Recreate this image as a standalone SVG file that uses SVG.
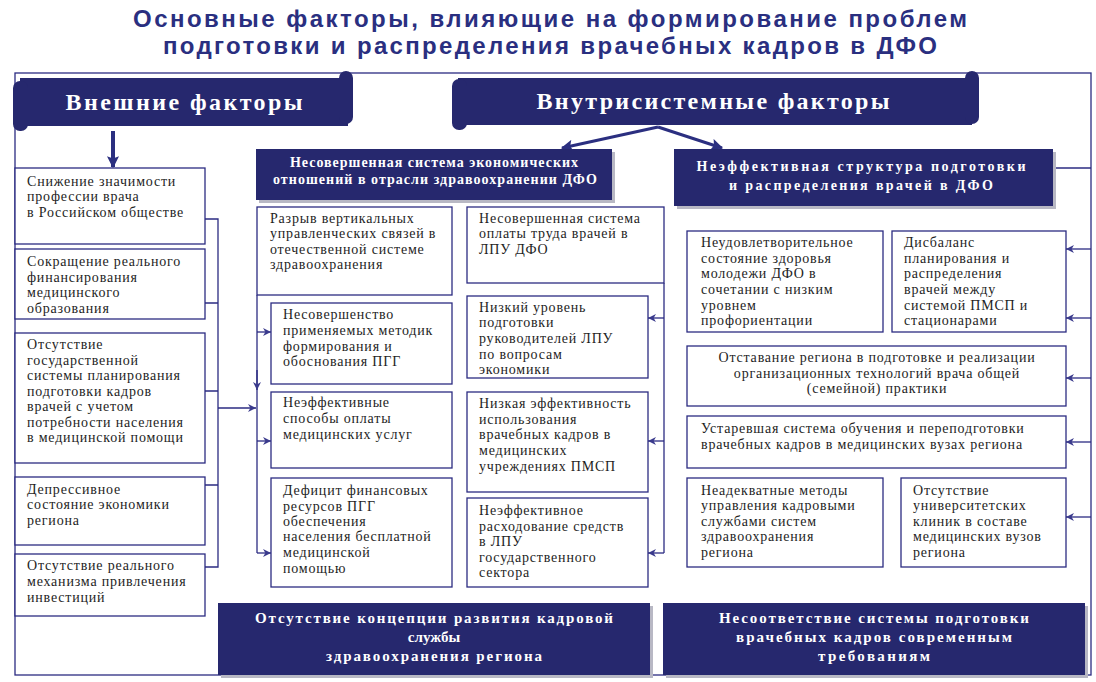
<svg xmlns="http://www.w3.org/2000/svg" width="1096" height="682" viewBox="0 0 1096 682">
<defs>
<style>
.frame{fill:none;stroke:#2b2b82;stroke-width:1.3}
.box{fill:#fff;stroke:#2b2b82;stroke-width:1.3}
.navy{fill:#26286e}
.shadow{fill:#b8b8c4}
.ln{fill:none;stroke:#2b2b82;stroke-width:1.3}
.t{font-family:"Liberation Serif","Times New Roman",serif;font-size:14px;fill:#1e1e1e;letter-spacing:0.8px}
.tc{font-family:"Liberation Serif","Times New Roman",serif;font-size:14px;fill:#1e1e1e;letter-spacing:0.8px;text-anchor:middle}
.hw{font-family:"Liberation Serif","Times New Roman",serif;font-weight:bold;fill:#fff;text-anchor:middle}
.title{font-family:"Liberation Sans",Arial,sans-serif;font-weight:bold;font-size:24px;fill:#2a2f80;text-anchor:middle}
</style>
<marker id="ah" viewBox="0 0 10 10" refX="10" refY="5" markerWidth="9" markerHeight="8" markerUnits="userSpaceOnUse" orient="auto">
<path d="M0,0 L10,5 L0,10 L3,5 Z" fill="#3a3a8c"/>
</marker>
<marker id="ahb" viewBox="0 0 10 10" refX="9" refY="5" markerWidth="14" markerHeight="12" markerUnits="userSpaceOnUse" orient="auto">
<path d="M0,0 L10,5 L0,10 L2,5 Z" fill="#2b2f80"/>
</marker>
</defs>
<rect width="1096" height="682" fill="#fff"/>

<g id="title">
<text class="title" x="550" y="27" textLength="834" lengthAdjust="spacing">Основные факторы, влияющие на формирование проблем</text>
<text class="title" x="550" y="54" textLength="774" lengthAdjust="spacing">подготовки и распределения врачебных кадров в ДФО</text>
</g>

<rect class="frame" x="15" y="73" width="1076" height="602"/>

<g id="connectors">
<line x1="113" y1="131" x2="113" y2="167" stroke="#2b2f80" stroke-width="4" marker-end="url(#ahb)"/>
<line x1="658" y1="127" x2="562" y2="148" stroke="#2b2f80" stroke-width="3" marker-end="url(#ahb)"/>
<line x1="658" y1="127" x2="722" y2="148" stroke="#2b2f80" stroke-width="3" marker-end="url(#ahb)"/>
<path class="ln" d="M205,219 H218 V567 H205 M205,303 H218 M205,391 H218 M205,485 H218"/>
<line class="ln" x1="218" y1="408" x2="256" y2="408" marker-end="url(#ah)"/>
<path class="ln" d="M257,295 V553"/>
<line class="ln" x1="257" y1="370" x2="257" y2="390" marker-end="url(#ah)"/>
<line class="ln" x1="257" y1="332" x2="271" y2="332" marker-end="url(#ah)"/>
<line class="ln" x1="257" y1="441" x2="271" y2="441" marker-end="url(#ah)"/>
<line class="ln" x1="257" y1="553" x2="271" y2="553" marker-end="url(#ah)"/>
<path class="ln" d="M664,283 V553"/>
<line class="ln" x1="664" y1="318" x2="648" y2="318" marker-end="url(#ah)"/>
<line class="ln" x1="664" y1="441" x2="648" y2="441" marker-end="url(#ah)"/>
<line class="ln" x1="664" y1="553" x2="648" y2="553" marker-end="url(#ah)"/>
<line class="ln" x1="1053" y1="168" x2="1091" y2="168"/>
<line class="ln" x1="1091" y1="249" x2="1066" y2="249" marker-end="url(#ah)"/>
<line class="ln" x1="1091" y1="318" x2="1066" y2="318" marker-end="url(#ah)"/>
<line class="ln" x1="1091" y1="378" x2="1066" y2="378" marker-end="url(#ah)"/>
<line class="ln" x1="1091" y1="442" x2="1066" y2="442" marker-end="url(#ah)"/>
<line class="ln" x1="1091" y1="517" x2="1066" y2="517" marker-end="url(#ah)"/>
</g>

<g id="banner-external">
<rect class="navy" x="20" y="78" width="328" height="48"/>
<rect class="navy" x="13" y="81" width="15" height="50" rx="7"/>
<rect class="navy" x="339" y="71" width="14" height="53" rx="7"/>
<text class="hw" x="184" y="110" font-size="24" textLength="237" lengthAdjust="spacing">Внешние факторы</text>
</g>

<g id="banner-internal">
<rect class="navy" x="458" y="78" width="514" height="47"/>
<rect class="navy" x="452" y="79" width="15" height="51" rx="7"/>
<rect class="navy" x="965" y="71" width="14" height="53" rx="7"/>
<text class="hw" x="713" y="109" font-size="24" textLength="353" lengthAdjust="spacing">Внутрисистемные факторы</text>
</g>

<g id="hdr-economic">
<rect class="shadow" x="259" y="152" width="356" height="51"/>
<rect class="navy" x="256" y="149" width="356" height="51"/>
<text class="hw" x="434" y="167" font-size="14" textLength="288" lengthAdjust="spacing">Несовершенная система экономических</text>
<text class="hw" x="435" y="184" font-size="14" textLength="324" lengthAdjust="spacing">отношений в отрасли здравоохранении ДФО</text>
</g>

<g id="hdr-structure">
<rect class="shadow" x="677" y="152" width="379" height="57"/>
<rect class="navy" x="674" y="149" width="379" height="57"/>
<text class="hw" x="861" y="171" font-size="14" textLength="329" lengthAdjust="spacing">Неэффективная  структура  подготовки</text>
<text class="hw" x="861" y="190" font-size="14" textLength="264" lengthAdjust="spacing">и распределения  врачей  в ДФО</text>
</g>

<g id="ext1">
<rect class="box" x="15" y="168" width="190" height="76"/>
<text class="t" x="27" y="186">Снижение значимости</text>
<text class="t" x="27" y="201">профессии врача</text>
<text class="t" x="27" y="217">в Российском обществе</text>
</g>
<g id="ext2">
<rect class="box" x="15" y="249" width="190" height="70"/>
<text class="t" x="27" y="266">Сокращение реального</text>
<text class="t" x="27" y="282">финансирования</text>
<text class="t" x="27" y="297">медицинского</text>
<text class="t" x="27" y="313">образования</text>
</g>
<g id="ext3">
<rect class="box" x="15" y="333" width="190" height="130"/>
<text class="t" x="27" y="349">Отсутствие</text>
<text class="t" x="27" y="365">государственной</text>
<text class="t" x="27" y="380">системы планирования</text>
<text class="t" x="27" y="396">подготовки кадров</text>
<text class="t" x="27" y="411">врачей с учетом</text>
<text class="t" x="27" y="427">потребности населения</text>
<text class="t" x="27" y="442">в медицинской помощи</text>
</g>
<g id="ext4">
<rect class="box" x="15" y="477" width="190" height="68"/>
<text class="t" x="27" y="494">Депрессивное</text>
<text class="t" x="27" y="509">состояние  экономики</text>
<text class="t" x="27" y="525">региона</text>
</g>
<g id="ext5">
<rect class="box" x="15" y="554" width="190" height="62"/>
<text class="t" x="27" y="570">Отсутствие реального</text>
<text class="t" x="27" y="586">механизма привлечения</text>
<text class="t" x="27" y="602">инвестиций</text>
</g>

<g id="m1">
<rect class="box" x="257" y="207" width="195" height="88"/>
<text class="t" x="270" y="223">Разрыв вертикальных</text>
<text class="t" x="270" y="238">управленческих связей в</text>
<text class="t" x="270" y="254">отечественной системе</text>
<text class="t" x="270" y="269">здравоохранения</text>
</g>
<g id="m2">
<rect class="box" x="271" y="303" width="181" height="81"/>
<text class="t" x="283" y="319">Несовершенство</text>
<text class="t" x="283" y="335">применяемых методик</text>
<text class="t" x="283" y="351">формирования и</text>
<text class="t" x="283" y="366">обоснования  ПГГ</text>
</g>
<g id="m3">
<rect class="box" x="271" y="392" width="181" height="76"/>
<text class="t" x="283" y="407">Неэффективные</text>
<text class="t" x="283" y="423">способы оплаты</text>
<text class="t" x="283" y="439">медицинских  услуг</text>
</g>
<g id="m4">
<rect class="box" x="271" y="478" width="181" height="109"/>
<text class="t" x="283" y="495">Дефицит финансовых</text>
<text class="t" x="283" y="511">ресурсов ПГГ</text>
<text class="t" x="283" y="526">обеспечения</text>
<text class="t" x="283" y="541">населения бесплатной</text>
<text class="t" x="283" y="557">медицинской</text>
<text class="t" x="283" y="573">помощью</text>
</g>

<g id="r1">
<rect class="box" x="467" y="207" width="197" height="76"/>
<text class="t" x="479" y="223">Несовершенная система</text>
<text class="t" x="479" y="238">оплаты труда врачей в</text>
<text class="t" x="479" y="254">ЛПУ  ДФО</text>
</g>
<g id="r2">
<rect class="box" x="467" y="296" width="181" height="82"/>
<text class="t" x="479" y="312">Низкий уровень</text>
<text class="t" x="479" y="327">подготовки</text>
<text class="t" x="479" y="343">руководителей ЛПУ</text>
<text class="t" x="479" y="359">по вопросам</text>
<text class="t" x="479" y="374">экономики</text>
</g>
<g id="r3">
<rect class="box" x="467" y="392" width="181" height="100"/>
<text class="t" x="479" y="408">Низкая эффективность</text>
<text class="t" x="479" y="424">использования</text>
<text class="t" x="479" y="439">врачебных кадров в</text>
<text class="t" x="479" y="455">медицинских</text>
<text class="t" x="479" y="471">учреждениях ПМСП</text>
</g>
<g id="r4">
<rect class="box" x="467" y="498" width="181" height="89"/>
<text class="t" x="479" y="515">Неэффективное</text>
<text class="t" x="479" y="531">расходование средств</text>
<text class="t" x="479" y="546">в ЛПУ</text>
<text class="t" x="479" y="562">государственного</text>
<text class="t" x="479" y="577">сектора</text>
</g>

<g id="s1">
<rect class="box" x="687" y="231" width="196" height="101"/>
<text class="t" x="701" y="247">Неудовлетворительное</text>
<text class="t" x="701" y="263">состояние  здоровья</text>
<text class="t" x="701" y="278">молодежи ДФО в</text>
<text class="t" x="701" y="294">сочетании с низким</text>
<text class="t" x="701" y="310">уровнем</text>
<text class="t" x="701" y="325">профориентации</text>
</g>
<g id="s2">
<rect class="box" x="892" y="231" width="174" height="101"/>
<text class="t" x="904" y="247">Дисбаланс</text>
<text class="t" x="904" y="263">планирования и</text>
<text class="t" x="904" y="278">распределения</text>
<text class="t" x="904" y="294">врачей между</text>
<text class="t" x="904" y="310">системой ПМСП и</text>
<text class="t" x="904" y="325">стационарами</text>
</g>
<g id="s3">
<rect class="box" x="687" y="346" width="379" height="60"/>
<text class="tc" x="877" y="362">Отставание региона в подготовке и реализации</text>
<text class="tc" x="877" y="378">организационных  технологий врача общей</text>
<text class="tc" x="877" y="393">(семейной) практики</text>
</g>
<g id="s4">
<rect class="box" x="687" y="416" width="379" height="52"/>
<text class="t" x="701" y="433">Устаревшая система обучения и переподготовки</text>
<text class="t" x="701" y="449">врачебных кадров в медицинских вузах региона</text>
</g>
<g id="s5">
<rect class="box" x="687" y="478" width="196" height="89"/>
<text class="t" x="701" y="495">Неадекватные  методы</text>
<text class="t" x="701" y="510">управления кадровыми</text>
<text class="t" x="701" y="526">службами систем</text>
<text class="t" x="701" y="541">здравоохранения</text>
<text class="t" x="701" y="557">региона</text>
</g>
<g id="s6">
<rect class="box" x="901" y="478" width="165" height="89"/>
<text class="t" x="913" y="495">Отсутствие</text>
<text class="t" x="913" y="510">университетских</text>
<text class="t" x="913" y="526">клиник в составе</text>
<text class="t" x="913" y="541">медицинских  вузов</text>
<text class="t" x="913" y="557">региона</text>
</g>

<g id="b1">
<rect class="shadow" x="221" y="606" width="432" height="72"/>
<rect class="navy" x="218" y="603" width="432" height="72"/>
<text class="hw" x="434" y="623" font-size="15" textLength="358" lengthAdjust="spacing">Отсутствие концепции развития кадровой</text>
<text class="hw" x="434" y="642" font-size="15">службы</text>
<text class="hw" x="434" y="661" font-size="15" textLength="216" lengthAdjust="spacing">здравоохранения региона</text>
</g>
<g id="b2">
<rect class="shadow" x="666" y="606" width="422" height="72"/>
<rect class="navy" x="663" y="603" width="422" height="72"/>
<text class="hw" x="874" y="623" font-size="15" textLength="310" lengthAdjust="spacing">Несоответствие системы подготовки</text>
<text class="hw" x="874" y="642" font-size="15" textLength="276" lengthAdjust="spacing">врачебных кадров современным</text>
<text class="hw" x="874" y="661" font-size="15" textLength="112" lengthAdjust="spacing">требованиям</text>
</g>
</svg>
